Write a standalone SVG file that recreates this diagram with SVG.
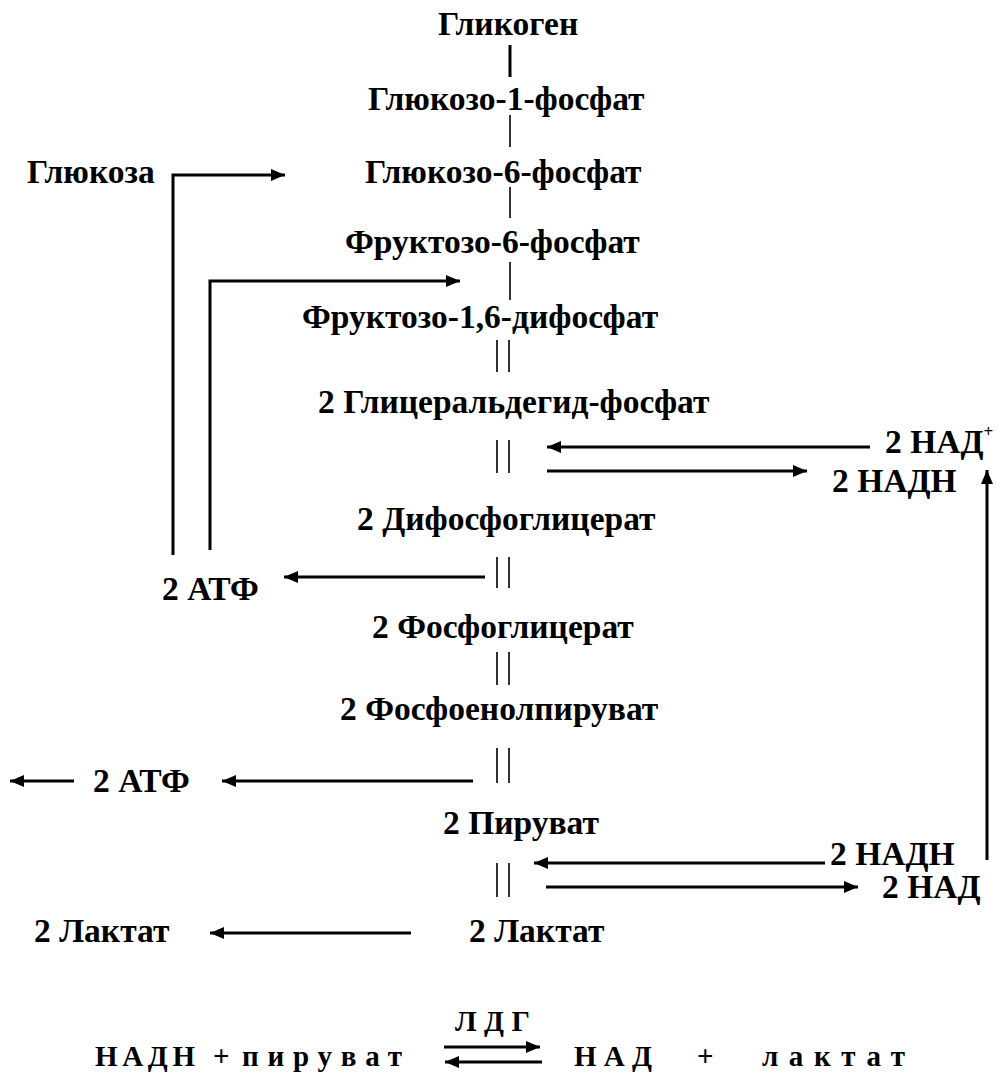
<svg xmlns="http://www.w3.org/2000/svg" width="997" height="1075" viewBox="0 0 997 1075">
  <style>
    text { font-family: "Liberation Serif", "Times New Roman", serif; font-weight: 700; font-size: 33.5px; fill: #000; }
    .eq { font-size: 29px; }
    .sup { font-size: 17px; }
    .thin { stroke: #000; stroke-width: 1.6; fill: none; }
    .thick { stroke: #000; stroke-width: 3; fill: none; }
    .arrow { stroke: #000; stroke-width: 3; fill: none; marker-end: url(#head); }
  </style>
  <defs>
    <marker id="head" markerUnits="userSpaceOnUse" markerWidth="16" markerHeight="12" refX="14" refY="6" orient="auto">
      <path d="M0,0 L14,6 L0,12 Z" fill="#000"/>
    </marker>
  </defs>

  <!-- metabolites of the glycolytic pathway -->
  <g id="glycogen"><text x="438" y="35">Гликоген</text></g>
  <g id="g1p"><text x="368" y="110">Глюкозо-1-фосфат</text></g>
  <g id="glucose"><text x="27" y="183">Глюкоза</text></g>
  <g id="g6p"><text x="365" y="183">Глюкозо-6-фосфат</text></g>
  <g id="f6p"><text x="345" y="253">Фруктозо-6-фосфат</text></g>
  <g id="f16bp"><text x="302" y="328">Фруктозо-1,6-дифосфат</text></g>
  <g id="gap"><text x="318" y="413">2 Глицеральдегид-фосфат</text></g>
  <g id="nad-plus"><text x="885" y="453">2 НАД<tspan class="sup" dy="-16">+</tspan></text></g>
  <g id="nadh-1"><text x="832" y="492">2 НАДН</text></g>
  <g id="bpg"><text x="357" y="530">2 Дифосфоглицерат</text></g>
  <g id="atp-1"><text x="162" y="600">2 АТФ</text></g>
  <g id="pg"><text x="372" y="638">2 Фосфоглицерат</text></g>
  <g id="pep"><text x="340" y="720">2 Фосфоенолпируват</text></g>
  <g id="atp-2"><text x="93" y="792">2 АТФ</text></g>
  <g id="pyruvate"><text x="443" y="834">2 Пируват</text></g>
  <g id="nadh-2"><text x="830" y="865">2 НАДН</text></g>
  <g id="nad-2"><text x="882" y="898">2 НАД</text></g>
  <g id="lactate-out"><text x="34" y="942">2 Лактат</text></g>
  <g id="lactate"><text x="469" y="942">2 Лактат</text></g>

  <!-- lactate dehydrogenase equation (spaced lettering) -->
  <g id="ldh-equation">
    <text class="eq" x="455" y="1031" textLength="75" lengthAdjust="spacing">ЛДГ</text>
    <text class="eq" x="95" y="1066" textLength="100" lengthAdjust="spacing">НАДН</text>
    <text class="eq" x="213" y="1066">+</text>
    <text class="eq" x="242" y="1066" textLength="160" lengthAdjust="spacing">пируват</text>
    <text class="eq" x="574" y="1066" textLength="78" lengthAdjust="spacing">НАД</text>
    <text class="eq" x="697" y="1066">+</text>
    <text class="eq" x="762" y="1066" textLength="143" lengthAdjust="spacing">лактат</text>
    <line class="arrow" x1="444" y1="1047" x2="540" y2="1047"/>
    <line class="arrow" x1="542" y1="1062" x2="445" y2="1062"/>
  </g>

  <!-- connectors -->
  <g id="connectors">
    <line class="thick" x1="510" y1="45" x2="510" y2="77"/>
    <line class="thin" x1="510" y1="115" x2="510" y2="147"/>
    <line class="thin" x1="510" y1="187" x2="510" y2="218"/>
    <line class="thin" x1="510" y1="262" x2="510" y2="300"/>
    <path class="thin" d="M497,340 V372 M509,340 V372"/>
    <path class="thin" d="M497,440 V473 M509,440 V473"/>
    <path class="thin" d="M497,557 V588 M509,557 V588"/>
    <path class="thin" d="M497,652 V685 M509,652 V685"/>
    <path class="thin" d="M497,748 V783 M509,748 V783"/>
    <path class="thin" d="M497,863 V897 M509,863 V897"/>

    <polyline class="arrow" points="173,555 173,175 285,175"/>
    <polyline class="arrow" points="210,550 210,281 460,281"/>
    <line class="arrow" x1="870" y1="447" x2="547" y2="447"/>
    <line class="arrow" x1="547" y1="471" x2="807" y2="471"/>
    <line class="arrow" x1="485" y1="577" x2="284" y2="577"/>
    <line class="arrow" x1="987" y1="860" x2="987" y2="470"/>
    <line class="arrow" x1="473" y1="781" x2="222" y2="781"/>
    <line class="arrow" x1="74" y1="781" x2="10" y2="781"/>
    <line class="arrow" x1="825" y1="863" x2="534" y2="863"/>
    <line class="arrow" x1="546" y1="887" x2="858" y2="887"/>
    <line class="arrow" x1="411" y1="933" x2="210" y2="933"/>
  </g>
</svg>
